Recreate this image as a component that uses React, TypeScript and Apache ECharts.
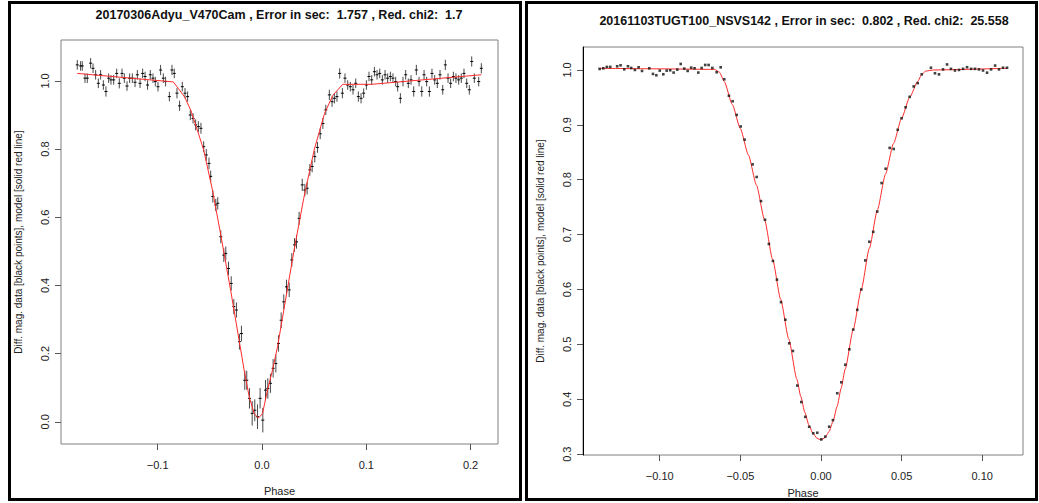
import React, { useEffect, useRef } from "react";
import * as echarts from "echarts";

const leftTitle = "20170306Adyu_V470Cam , Error in sec:  1.757 , Red. chi2:  1.7";
const rightTitle = "20161103TUGT100_NSVS142 , Error in sec:  0.802 , Red. chi2:  25.558";
const yTitle = "Diff. mag. data [black points], model [solid red line]";
const xTitle = "Phase";

const leftXTicks = [-0.1, 0, 0.1, 0.2];
const leftYTicks = [0, 0.2, 0.4, 0.6, 0.8, 1.0];
const rightXTicks = [-0.1, -0.05, 0, 0.05, 0.1];
const rightYTicks = [0.3, 0.4, 0.5, 0.6, 0.7, 0.8, 0.9, 1.0];

// [phase, diff mag, error]
const leftData: [number, number, number][] = [
  [-0.1771, 1.047, 0.014], [-0.1739, 1.044, 0.014], [-0.1723, 1.044, 0.014], [-0.1697, 1.008, 0.014],
  [-0.1675, 1.008, 0.014], [-0.1643, 1.052, 0.015], [-0.162, 1.037, 0.014], [-0.1595, 1.018, 0.014],
  [-0.1569, 0.993, 0.014], [-0.1547, 1.018, 0.014], [-0.1521, 0.988, 0.014], [-0.1496, 0.969, 0.015],
  [-0.147, 1.008, 0.014], [-0.1448, 1.003, 0.014], [-0.1422, 1.003, 0.014], [-0.1393, 1.022, 0.014],
  [-0.1368, 0.993, 0.015], [-0.1342, 1.022, 0.014], [-0.132, 1.008, 0.014], [-0.1294, 0.985, 0.014],
  [-0.1269, 1.008, 0.014], [-0.1243, 1.008, 0.014], [-0.1217, 0.996, 0.014], [-0.1195, 1.018, 0.014],
  [-0.1169, 0.993, 0.014], [-0.1144, 1.022, 0.014], [-0.1121, 1.013, 0.014], [-0.1097, 0.988, 0.014],
  [-0.1071, 1.018, 0.014], [-0.1045, 1.008, 0.014], [-0.1023, 0.998, 0.014], [-0.0997, 0.983, 0.014],
  [-0.0972, 1.032, 0.015], [-0.0946, 1.008, 0.014], [-0.0924, 0.998, 0.014], [-0.0888, 0.954, 0.014],
  [-0.0863, 1.032, 0.015], [-0.0841, 1.022, 0.014], [-0.0815, 0.964, 0.015], [-0.079, 0.927, 0.015],
  [-0.0764, 0.983, 0.014], [-0.0738, 0.964, 0.015], [-0.0713, 0.954, 0.015], [-0.0687, 0.9, 0.015],
  [-0.0661, 0.89, 0.015], [-0.0636, 0.871, 0.016], [-0.061, 0.866, 0.016], [-0.0585, 0.861, 0.016],
  [-0.0559, 0.807, 0.016], [-0.0534, 0.783, 0.017], [-0.0508, 0.758, 0.017], [-0.0492, 0.72, 0.017],
  [-0.0471, 0.661, 0.018], [-0.0443, 0.636, 0.018], [-0.0424, 0.641, 0.018], [-0.0395, 0.543, 0.019],
  [-0.0366, 0.489, 0.02], [-0.0347, 0.494, 0.02], [-0.0321, 0.45, 0.02], [-0.0295, 0.406, 0.021],
  [-0.027, 0.338, 0.022], [-0.0245, 0.328, 0.022], [-0.0216, 0.235, 0.023], [-0.0197, 0.259, 0.023],
  [-0.0165, 0.122, 0.028], [-0.0146, 0.122, 0.028], [-0.012, 0.069, 0.03], [-0.0094, 0.025, 0.036],
  [-0.0069, 0.034, 0.032], [-0.0043, 0.015, 0.036], [-0.0018, 0.069, 0.03], [0.0008, 0.005, 0.036],
  [0.0034, 0.093, 0.03], [0.0056, 0.098, 0.03], [0.0081, 0.113, 0.028], [0.0107, 0.157, 0.027],
  [0.0133, 0.171, 0.026], [0.0158, 0.23, 0.024], [0.0184, 0.298, 0.023], [0.0209, 0.352, 0.022],
  [0.0235, 0.396, 0.021], [0.0261, 0.387, 0.021], [0.0286, 0.475, 0.02], [0.0312, 0.519, 0.02],
  [0.0331, 0.528, 0.02], [0.0356, 0.597, 0.019], [0.0386, 0.695, 0.018], [0.0411, 0.68, 0.018],
  [0.0433, 0.685, 0.018], [0.0459, 0.739, 0.017], [0.0481, 0.749, 0.017], [0.0506, 0.778, 0.017],
  [0.0532, 0.805, 0.016], [0.0558, 0.845, 0.016], [0.0584, 0.875, 0.016], [0.0612, 0.915, 0.015],
  [0.0646, 0.959, 0.015], [0.0672, 0.939, 0.015], [0.0694, 0.949, 0.015], [0.0719, 0.954, 0.015],
  [0.0745, 1.022, 0.015], [0.0771, 0.964, 0.015], [0.0796, 1.008, 0.014], [0.0822, 0.988, 0.014],
  [0.0847, 0.983, 0.014], [0.0873, 0.974, 0.014], [0.0899, 0.993, 0.014], [0.0924, 0.954, 0.015],
  [0.095, 0.949, 0.015], [0.0975, 0.964, 0.014], [0.1001, 0.988, 0.014], [0.1026, 1.013, 0.014],
  [0.1052, 1.003, 0.014], [0.1078, 1.027, 0.014], [0.1103, 1.018, 0.014], [0.1129, 1.022, 0.014],
  [0.1154, 1.003, 0.014], [0.118, 1.018, 0.014], [0.1205, 1.008, 0.014], [0.1231, 1.013, 0.014],
  [0.1256, 1.008, 0.014], [0.1282, 0.998, 0.014], [0.1301, 0.983, 0.014], [0.1327, 0.949, 0.015],
  [0.1352, 0.998, 0.014], [0.1378, 1.018, 0.014], [0.1403, 0.993, 0.014], [0.1429, 1.003, 0.014],
  [0.1455, 0.969, 0.015], [0.148, 1.032, 0.015], [0.1506, 0.998, 0.014], [0.1532, 0.969, 0.015],
  [0.1554, 1.018, 0.014], [0.1579, 0.998, 0.014], [0.1605, 0.969, 0.015], [0.163, 1.022, 0.014],
  [0.1656, 1.003, 0.014], [0.1681, 0.993, 0.014], [0.1707, 1.018, 0.014], [0.1733, 0.974, 0.014],
  [0.1758, 1.047, 0.015], [0.1784, 1.008, 0.014], [0.1809, 0.993, 0.014], [0.1835, 1.013, 0.014],
  [0.186, 1.008, 0.014], [0.1886, 1.003, 0.014], [0.1911, 1.008, 0.014], [0.1937, 1.022, 0.014],
  [0.1963, 0.993, 0.014], [0.1988, 0.974, 0.014], [0.2011, 1.057, 0.015], [0.2036, 1.008, 0.014],
  [0.2078, 0.998, 0.014], [0.2103, 1.037, 0.015],
];

const leftModel: [number, number][] = [
  [-0.1771, 1.022], [-0.085, 0.997], [-0.08, 0.977], [-0.074, 0.952], [-0.068, 0.912],
  [-0.0561, 0.8], [-0.0475, 0.68], [-0.0395, 0.548], [-0.03, 0.385], [-0.0171, 0.152],
  [-0.0123, 0.074], [-0.0075, 0.024], [-0.0034, 0.011], [0.0005, 0.024], [0.0053, 0.093],
  [0.0101, 0.152], [0.0149, 0.22], [0.0308, 0.504], [0.04, 0.655], [0.05, 0.797],
  [0.06, 0.905], [0.068, 0.958], [0.0774, 0.99], [0.105, 0.99], [0.2103, 1.018],
];

// [phase, diff mag]
const rightData: [number, number][] = [
  [-0.1373, 1.0018], [-0.135, 1.003], [-0.1328, 1.0055], [-0.1307, 1.0055], [-0.1264, 1.0067],
  [-0.1243, 1.0085], [-0.122, 1.0012], [-0.1197, 1.0067], [-0.1177, 1.0036], [-0.1154, 1.0],
  [-0.1131, 1.0048], [-0.111, 0.9982], [-0.1065, 1.003], [-0.1042, 0.9927], [-0.1021, 0.9903],
  [-0.1, 0.9988], [-0.0978, 0.9921], [-0.0957, 0.9988], [-0.0935, 0.9994], [-0.0914, 0.9952],
  [-0.0891, 1.0006], [-0.087, 1.0109], [-0.0848, 1.0024], [-0.0827, 0.9982], [-0.0805, 1.0042],
  [-0.0784, 1.003], [-0.0761, 0.9952], [-0.074, 1.0036], [-0.0718, 1.0091], [-0.0697, 1.0091],
  [-0.0674, 1.0036], [-0.0647, 0.9958], [-0.0622, 1.0048], [-0.06, 0.983], [-0.0571, 0.953],
  [-0.0548, 0.943], [-0.0523, 0.918], [-0.0498, 0.897], [-0.0474, 0.873], [-0.0424, 0.828],
  [-0.0399, 0.805], [-0.0372, 0.761], [-0.0347, 0.727], [-0.0323, 0.683], [-0.0298, 0.652],
  [-0.0273, 0.618], [-0.0248, 0.577], [-0.0221, 0.545], [-0.0197, 0.502], [-0.0174, 0.488],
  [-0.0147, 0.425], [-0.0122, 0.395], [-0.0097, 0.368], [-0.0073, 0.35], [-0.0048, 0.338],
  [-0.0023, 0.339], [0.0002, 0.327], [0.0027, 0.332], [0.0051, 0.35], [0.0074, 0.362],
  [0.0101, 0.411], [0.0126, 0.431], [0.0151, 0.463], [0.0176, 0.491], [0.02, 0.527],
  [0.0225, 0.563], [0.025, 0.6], [0.0275, 0.653], [0.03, 0.687], [0.0324, 0.705],
  [0.0349, 0.742], [0.0376, 0.794], [0.0401, 0.82], [0.0426, 0.858], [0.0451, 0.856],
  [0.0476, 0.891], [0.05, 0.912], [0.0525, 0.932], [0.055, 0.951], [0.0575, 0.97],
  [0.06, 0.976], [0.0625, 0.992], [0.0682, 1.004], [0.0707, 0.994], [0.0732, 0.992],
  [0.0757, 1.001], [0.0782, 1.01], [0.0806, 1.002], [0.0831, 0.999], [0.0856, 1.0],
  [0.0881, 1.002], [0.0906, 1.005], [0.0931, 1.002], [0.0955, 1.002], [0.098, 1.001],
  [0.1005, 0.999], [0.103, 0.995], [0.1055, 1.001], [0.108, 1.008], [0.1104, 1.001],
  [0.1129, 1.004], [0.1154, 1.004],
];

const rightModel: [number, number][] = [
  [-0.1373, 1.003], [-0.1, 1.002], [-0.066, 1.001], [-0.063, 0.996], [-0.06, 0.979],
  [-0.055, 0.937], [-0.05, 0.893], [-0.045, 0.845], [-0.04, 0.79], [-0.035, 0.727],
  [-0.03, 0.655], [-0.025, 0.582], [-0.02, 0.51], [-0.015, 0.437], [-0.0125, 0.405],
  [-0.01, 0.376], [-0.0075, 0.353], [-0.005, 0.338], [-0.0025, 0.329], [0, 0.326],
  [0.0025, 0.33], [0.005, 0.341], [0.0075, 0.36], [0.01, 0.387], [0.0125, 0.42],
  [0.015, 0.455], [0.02, 0.527], [0.025, 0.6], [0.03, 0.675], [0.035, 0.745],
  [0.04, 0.81], [0.045, 0.866], [0.05, 0.912], [0.055, 0.95], [0.06, 0.979],
  [0.0625, 0.992], [0.065, 0.998], [0.07, 1.0], [0.1154, 1.003],
];

const FONT = "'Liberation Sans', Arial, Helvetica, sans-serif";

function fmt(v: number, d: number): string {
  return (v < -1e-9 ? "\u2212" : "") + Math.abs(v).toFixed(d);
}

function errRender(params: any, api: any) {
  const x = api.value(0);
  const y = api.value(1);
  const e = api.value(2);
  const top = api.coord([x, y + e]);
  const bot = api.coord([x, y - e]);
  const c = api.coord([x, y]);
  return {
    type: "group",
    children: [
      {
        type: "line",
        shape: { x1: top[0], y1: top[1], x2: bot[0], y2: bot[1] },
        style: { stroke: "#484848", lineWidth: 1 },
      },
      {
        type: "line",
        shape: { x1: c[0] - 1.5, y1: c[1], x2: c[0] + 1.5, y2: c[1] },
        style: { stroke: "#000", lineWidth: 1 },
      },
    ],
  };
}

function xAxisCfg(gridIndex: number, min: number, max: number, ticks: number[], dec: number, gap: number) {
  return {
    type: "value",
    gridIndex,
    min,
    max,
    splitLine: { show: false },
    axisLine: { show: false, onZero: false },
    axisTick: { show: true, length: 6, customValues: ticks, lineStyle: { color: "#555" } },
    axisLabel: {
      customValues: ticks,
      formatter: (v: number) => fmt(v, dec),
      margin: 15,
      fontSize: 11,
      color: "#222",
      fontFamily: FONT,
    },
    name: xTitle,
    nameLocation: "middle",
    nameGap: gap,
    nameTextStyle: { fontSize: 11, color: "#222", fontFamily: FONT },
  };
}

function yAxisCfg(gridIndex: number, min: number, max: number, ticks: number[], dark: boolean) {
  return {
    type: "value",
    gridIndex,
    min,
    max,
    splitLine: { show: false },
    axisLine: { show: dark, onZero: false, lineStyle: { color: "#000", width: 1 } },
    axisTick: { show: true, length: 6, customValues: ticks, lineStyle: { color: "#555" } },
    axisLabel: {
      customValues: ticks,
      formatter: (v: number) => fmt(v, 1),
      rotate: 90,
      margin: 11,
      fontSize: 11,
      color: "#222",
      fontFamily: FONT,
    },
    name: yTitle,
    nameLocation: "middle",
    nameRotate: 90,
    nameGap: 38,
    nameTextStyle: { fontSize: 10, color: "#222", fontFamily: FONT },
  };
}

export default function App() {
  const ref = useRef<HTMLDivElement>(null);

  useEffect(() => {
    if (!ref.current) return;
    const chart = echarts.init(ref.current, null, { renderer: "svg" });
    const option: any = {
      animation: false,
      backgroundColor: "#fff",
      grid: [
        { left: 61, top: 40, width: 437, height: 404, show: true, borderColor: "#808080", borderWidth: 1 },
        { left: 583, top: 47, width: 440, height: 408, show: true, borderColor: "#808080", borderWidth: 1 },
      ],
      xAxis: [
        xAxisCfg(0, -0.1927, 0.2263, leftXTicks, 1, 41),
        xAxisCfg(1, -0.1476, 0.1253, rightXTicks, 2, 32),
      ],
      yAxis: [
        yAxisCfg(0, -0.065, 1.12, leftYTicks, false),
        yAxisCfg(1, 0.2985, 1.0418, rightYTicks, true),
      ],
      graphic: [
        {
          type: "rect",
          shape: { x: 9.5, y: 2.5, width: 511, height: 497 },
          style: { fill: "none", stroke: "#000", lineWidth: 3 },
          silent: true,
        },
        {
          type: "rect",
          shape: { x: 526.5, y: 2.5, width: 510, height: 497 },
          style: { fill: "none", stroke: "#000", lineWidth: 3 },
          silent: true,
        },
        {
          type: "text",
          x: 279,
          y: 15,
          style: {
            text: leftTitle,
            textAlign: "center",
            textVerticalAlign: "middle",
            font: "bold 12.5px " + FONT,
            fill: "#111",
          },
        },
        {
          type: "text",
          x: 804,
          y: 21,
          style: {
            text: rightTitle,
            textAlign: "center",
            textVerticalAlign: "middle",
            font: "bold 12.5px " + FONT,
            fill: "#111",
          },
        },
      ],
      series: [
        {
          type: "custom",
          xAxisIndex: 0,
          yAxisIndex: 0,
          renderItem: errRender,
          encode: { x: 0, y: 1 },
          data: leftData,
          silent: true,
          z: 2,
        },
        {
          type: "line",
          xAxisIndex: 0,
          yAxisIndex: 0,
          data: leftModel,
          showSymbol: false,
          lineStyle: { color: "#ff2a2a", width: 1 },
          silent: true,
          z: 3,
        },
        {
          type: "scatter",
          xAxisIndex: 1,
          yAxisIndex: 1,
          data: rightData,
          symbol: "rect",
          symbolSize: 2.6,
          itemStyle: { color: "#111" },
          silent: true,
          z: 4,
        },
        {
          type: "line",
          xAxisIndex: 1,
          yAxisIndex: 1,
          data: rightModel,
          showSymbol: false,
          smooth: 0.2,
          smoothMonotone: "x",
          lineStyle: { color: "#ff2a2a", width: 1 },
          silent: true,
          z: 3,
        },
      ],
    };
    chart.setOption(option);
    return () => chart.dispose();
  }, []);

  return (
    <div
      ref={ref}
      style={{ position: "absolute", left: 0, top: 0, width: 1039, height: 503, background: "#fff" }}
    />
  );
}
